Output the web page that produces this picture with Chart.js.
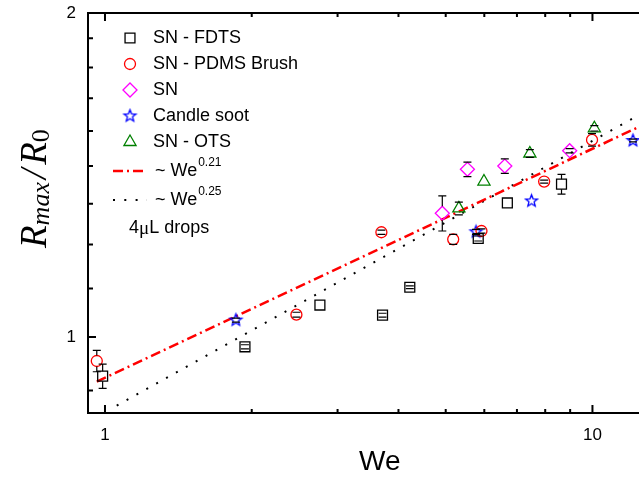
<!DOCTYPE html>
<html><head><meta charset="utf-8">
<script src="https://cdn.jsdelivr.net/npm/chart.js@4"></script>
<style>html,body{margin:0;padding:0;overflow:hidden;background:#fff;width:639px;height:478px}canvas{display:block}</style>
</head><body>
<canvas id="c" width="680" height="478"></canvas>
<script>
// ---- data ----
const fdtsWe  = [0.989, 1.937, 2.76, 3.71, 4.22, 5.83, 6.69, 8.64];
const fdtsR   = [0.926, 0.981, 1.065, 1.044, 1.103, 1.214, 1.302, 1.351];
const fdtsErr = [0.022, 0.004, 0, 0.004, 0.003, 0.006, 0, 0.026];

const pdmsWe  = [0.962, 2.47, 3.69, 5.18, 5.92, 7.96, 9.98];
const pdmsR   = [0.954, 1.045, 1.229, 1.212, 1.232, 1.358, 1.474];
const pdmsErr = [0.02, 0.005, 0.005, 0.012, 0.005, 0.004, 0.018];

const snWe  = [4.92, 5.54, 6.61, 8.98];
const snR   = [1.276, 1.391, 1.400, 1.443];
const snErr = [0.044, 0.02, 0.02, 0.006];

const sootWe  = [1.856, 5.77, 7.50, 12.11];
const sootR   = [1.034, 1.230, 1.307, 1.472];
const sootErr = [0.004, 0.006, 0, 0.004];

const otsWe  = [5.32, 5.99, 7.44, 10.09];
const otsR   = [1.288, 1.358, 1.435, 1.508];
const otsErr = [0.016, 0, 0.011, 0.008];

const fit021We = [0.962, 12.45];
const fit021R  = [0.916, 1.512];
const fit025We = [1.057, 12.45];
const fit025R  = [0.874, 1.548];

const xTickValues = [1, 10];
const xTickLabels = ['1', '10'];
const xMinorValues = [2, 3, 4, 5, 6, 7, 8, 9];
const X_MIN = 0.9229, X_MAX = 14.54;
const Y_MIN = 0.8612, Y_MAX = 1.892;
const yTickValues = [1, Y_MAX];
const yTickLabels = ['1', '2'];
const yMinorValues = [0.9, 1.1, 1.2, 1.3, 1.4, 1.5, 1.6, 1.7, 1.8];

const seriesNames = ['SN - FDTS', 'SN - PDMS Brush', 'SN', 'Candle soot', 'SN - OTS'];

// ---- helpers ----
function pts(xs, ys){ return xs.map((x,i)=>({x:x, y:ys[i]})); }
function makeStar(color, R, r){
  const s = Math.ceil(R*2+4);
  const c = document.createElement('canvas'); c.width = s; c.height = s;
  const g = c.getContext('2d');
  g.strokeStyle = color; g.lineWidth = 1.3; g.beginPath();
  for (let i=0;i<10;i++){
    const a = -Math.PI/2 + i*Math.PI/5, rr = (i%2)? r : R;
    const px = s/2 + rr*Math.cos(a), py = s/2 + rr*Math.sin(a);
    if (i) g.lineTo(px,py); else g.moveTo(px,py);
  }
  g.closePath(); g.stroke();
  return c;
}
const starImg = makeStar('#0000ff', 6.3, 2.7);

const FONT = '"Liberation Sans", Arial, sans-serif';
const SERIF = '"Liberation Serif", "Times New Roman", serif';

function markerDS(label, xs, ys, err, style, radius, color, gap){
  return {label:label, data:pts(xs,ys), showLine:false, pointStyle:style, pointRadius:radius,
    pointHoverRadius:radius, borderColor:color, backgroundColor:'rgba(0,0,0,0)',
    pointBorderWidth:1.3, borderWidth:1.3, err:err, gap:gap, order:1};
}

const datasets = [
  markerDS(seriesNames[0], fdtsWe, fdtsR, fdtsErr, 'rect', 7, '#000000', 5),
  markerDS(seriesNames[1], pdmsWe, pdmsR, pdmsErr, 'circle', 5.5, '#ff0000', 5.5),
  markerDS(seriesNames[2], snWe, snR, snErr, 'rectRot', 7, '#ff00ff', 7),
  markerDS(seriesNames[3], sootWe, sootR, sootErr, starImg, 6, '#0000ff', 6),
  markerDS(seriesNames[4], otsWe, otsR, otsErr, 'triangle', 7, '#008000', 6),
  {label:'~ We^0.21', data:pts(fit021We, fit021R), showLine:true, pointRadius:0, borderColor:'#ff0000',
   borderWidth:2.5, borderDash:[10,4,2,4], fill:false, order:2},
  {label:'~ We^0.25', data:pts(fit025We, fit025R), showLine:true, pointRadius:0, borderColor:'#000000',
   borderWidth:2, borderDash:[2,9.3], fill:false, order:2}
];

// error bars
const errPlugin = {
  id:'errbars',
  afterDatasetsDraw(chart){
    const ctx = chart.ctx, xs = chart.scales.x, ys = chart.scales.y, a = chart.chartArea;
    ctx.save();
    ctx.beginPath(); ctx.rect(a.left, a.top, a.right-a.left, a.bottom-a.top); ctx.clip();
    ctx.strokeStyle = '#000'; ctx.lineWidth = 1.2;
    chart.data.datasets.forEach(ds=>{
      if (!ds.err) return;
      ds.data.forEach((p,i)=>{
        const e = ds.err[i]; if (!e) return;
        const px = xs.getPixelForValue(p.x);
        const pc = ys.getPixelForValue(p.y);
        const pt = ys.getPixelForValue(p.y+e);
        const pb = ys.getPixelForValue(p.y-e);
        ctx.beginPath();
        if (pc-pt > ds.gap){ ctx.moveTo(px, pt); ctx.lineTo(px, pc-ds.gap); }
        if (pb-pc > ds.gap){ ctx.moveTo(px, pc+ds.gap); ctx.lineTo(px, pb); }
        ctx.moveTo(px-4, pt); ctx.lineTo(px+4, pt);
        ctx.moveTo(px-4, pb); ctx.lineTo(px+4, pb);
        ctx.stroke();
      });
    });
    ctx.restore();
  }
};

// frame & inward ticks, titles, legend
const framePlugin = {
  id:'frame',
  afterDraw(chart){
    const ctx = chart.ctx, xs = chart.scales.x, ys = chart.scales.y, a = chart.chartArea;
    ctx.save();
    ctx.strokeStyle = '#000'; ctx.lineWidth = 2;
    ctx.beginPath();
    ctx.rect(a.left, a.top, a.right-a.left, a.bottom-a.top);
    ctx.stroke();
    ctx.beginPath();
    xTickValues.forEach(v=>{ const px = xs.getPixelForValue(v);
      ctx.moveTo(px, a.bottom); ctx.lineTo(px, a.bottom-8);
      ctx.moveTo(px, a.top); ctx.lineTo(px, a.top+8); });
    xMinorValues.forEach(v=>{ const px = xs.getPixelForValue(v);
      ctx.moveTo(px, a.bottom); ctx.lineTo(px, a.bottom-4);
      ctx.moveTo(px, a.top); ctx.lineTo(px, a.top+4); });
    yTickValues.forEach(v=>{ if (v>=Y_MAX) return; const py = ys.getPixelForValue(v);
      ctx.moveTo(a.left, py); ctx.lineTo(a.left+8, py); });
    yMinorValues.forEach(v=>{ const py = ys.getPixelForValue(v);
      ctx.moveTo(a.left, py); ctx.lineTo(a.left+5, py); });
    ctx.stroke();

    // axis titles
    ctx.fillStyle = '#000';
    ctx.font = '28px ' + FONT; ctx.textAlign = 'center'; ctx.textBaseline = 'alphabetic';
    ctx.fillText('We', (a.left + a.right)/2, 470);

    // y title: R_max / R_0 (rotated)
    ctx.save();
    ctx.translate(46, 248); ctx.rotate(-Math.PI/2);
    ctx.textAlign = 'left';
    const segs = [
      {t:'R', f:'italic 37px ' + SERIF, dy:0, sp:0},
      {t:'max', f:'italic 26px ' + SERIF, dy:3, sp:3},
      {t:'/', f:'italic 37px ' + SERIF, dy:0, sp:4},
      {t:'R', f:'italic 37px ' + SERIF, dy:0, sp:0},
      {t:'0', f:'26px ' + SERIF, dy:3, sp:0}
    ];
    let cx = 0;
    segs.forEach(s=>{ ctx.font = s.f; ctx.fillText(s.t, cx, s.dy); cx += ctx.measureText(s.t).width + s.sp; });
    ctx.restore();

    // legend
    const rows = [38, 64, 90, 116, 142];
    ctx.lineWidth = 1.3;
    for (let i=0;i<5;i++){
      const ds = chart.data.datasets[i];
      ctx.strokeStyle = ds.borderColor; ctx.fillStyle = 'rgba(0,0,0,0)';
      Chart.helpers.drawPoint(ctx, {pointStyle:ds.pointStyle, radius:ds.pointRadius, rotation:0, borderWidth:1.3}, 130, rows[i]);
      ctx.fillStyle = '#000'; ctx.font = '18px ' + FONT; ctx.textAlign = 'left'; ctx.textBaseline = 'middle';
      ctx.fillText(ds.label, 153, rows[i]);
    }
    const lineRows = [{ds:5, y:171, sup:'0.21'}, {ds:6, y:200, sup:'0.25'}];
    lineRows.forEach(r=>{
      const ds = chart.data.datasets[r.ds];
      ctx.save();
      ctx.strokeStyle = ds.borderColor; ctx.lineWidth = ds.borderWidth; ctx.setLineDash(ds.borderDash);
      ctx.beginPath(); ctx.moveTo(113, r.y); ctx.lineTo(147, r.y); ctx.stroke();
      ctx.restore();
      ctx.fillStyle = '#000'; ctx.font = '18px ' + FONT; ctx.textAlign = 'left'; ctx.textBaseline = 'middle';
      const main = '~ We';
      ctx.fillText(main, 155, r.y);
      const w = ctx.measureText(main).width;
      ctx.font = '12px ' + FONT;
      ctx.fillText(r.sup, 155 + w + 1, r.y - 8);
    });
    // 4μL drops
    ctx.font = '18px ' + FONT; ctx.textBaseline = 'middle';
    let tx = 129;
    ctx.fillText('4', tx, 228); tx += ctx.measureText('4').width;
    ctx.font = '19px ' + SERIF; ctx.fillText('\u03bc', tx, 229); tx += ctx.measureText('\u03bc').width;
    ctx.font = '18px ' + FONT; ctx.fillText('L drops', tx, 228);
    ctx.restore();
  }
};

new Chart(document.getElementById('c'), {
  type:'scatter',
  data:{datasets:datasets},
  options:{
    responsive:false, animation:false, devicePixelRatio:1, events:[],
    layout:{padding:{top:13, right:8, left:0, bottom:0}},
    plugins:{legend:{display:false}, tooltip:{enabled:false}, title:{display:false}},
    scales:{
      x:{type:'logarithmic', position:'bottom', min:X_MIN, max:X_MAX,
        afterBuildTicks:(s)=>{ s.ticks = xTickValues.map(v=>({value:v})); },
        afterFit:(s)=>{ s.height = 65; s.paddingLeft = 0; s.paddingRight = 0; s.paddingTop = 0; s.paddingBottom = 0; },
        ticks:{callback:(v,i)=>xTickLabels[i], font:{family:'Liberation Sans', size:17}, color:'#000', padding:12, maxRotation:0, autoSkip:false},
        grid:{display:false, drawTicks:false}, border:{display:false}},
      y:{type:'logarithmic', position:'left', min:Y_MIN, max:Y_MAX,
        afterBuildTicks:(s)=>{ s.ticks = yTickValues.map(v=>({value:v})); },
        afterFit:(s)=>{ s.width = 88; s.paddingTop = 0; s.paddingBottom = 0; s.paddingLeft = 0; s.paddingRight = 0; },
        ticks:{callback:(v,i)=>yTickLabels[i], font:{family:'Liberation Sans', size:17}, color:'#000', padding:12, autoSkip:false},
        grid:{display:false, drawTicks:false}, border:{display:false}}
    }
  },
  plugins:[errPlugin, framePlugin]
});
</script>
</body></html>
